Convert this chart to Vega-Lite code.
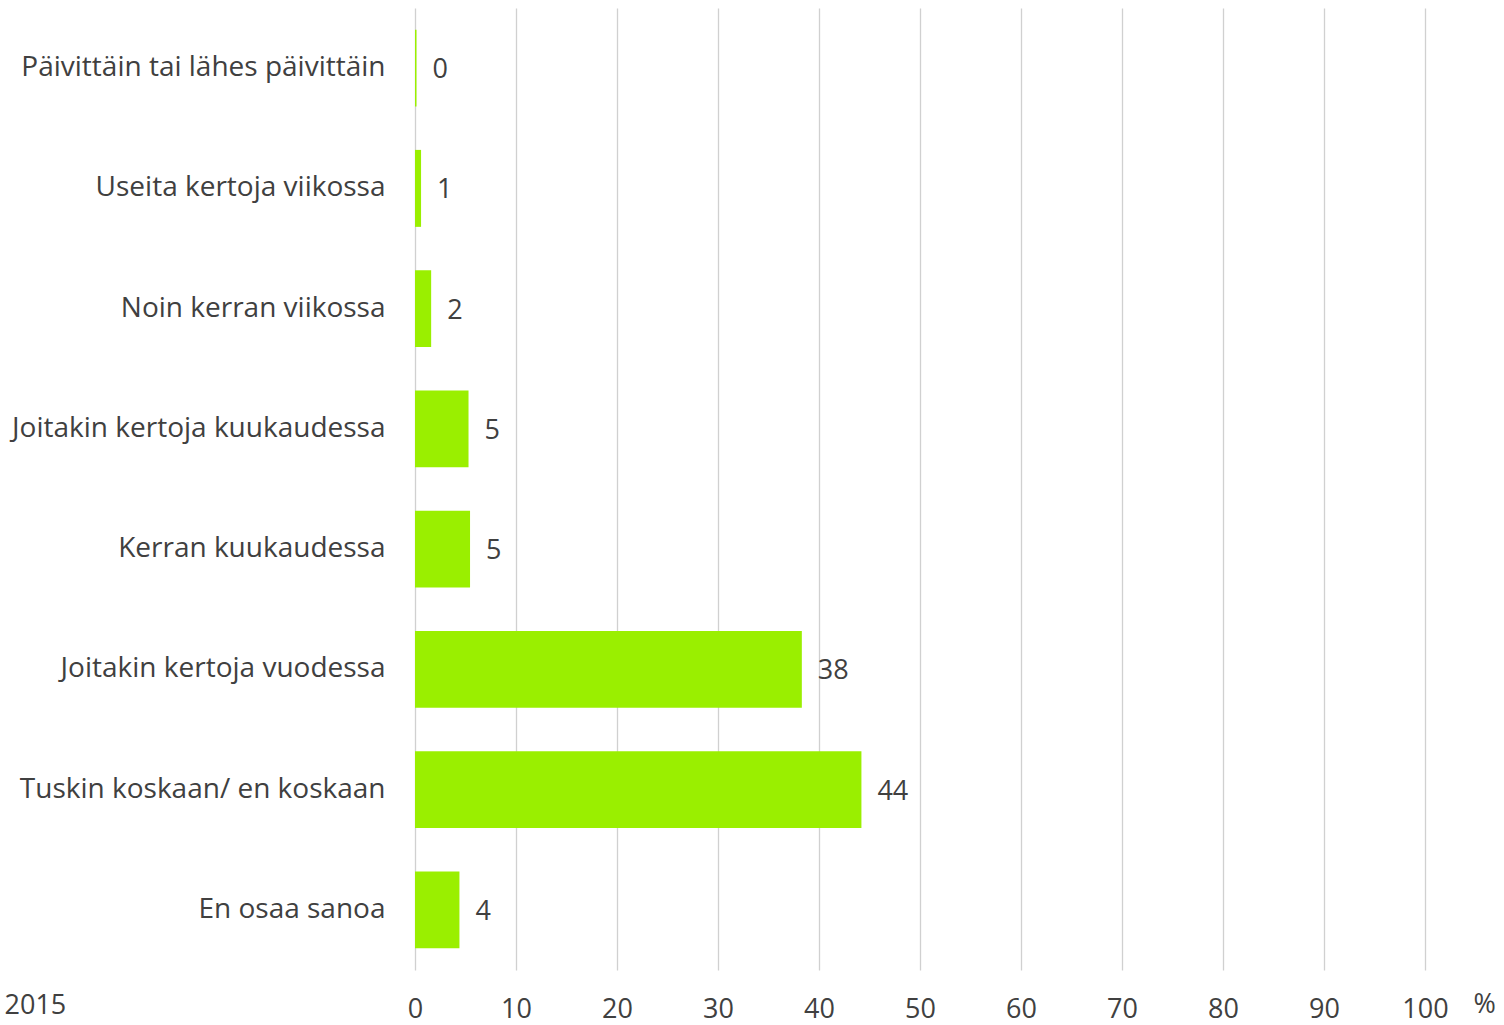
{
  "$schema": "https://vega.github.io/schema/vega-lite/v6.json",
  "width": 1010,
  "height": 962,
  "autosize": {"type": "none"},
  "padding": {"left": 415, "top": 8, "right": 79, "bottom": 55},
  "background": "white",
  "data": {"values": [
    {"category": "Päivittäin tai lähes päivittäin", "value": 0.15},
    {"category": "Useita kertoja viikossa", "value": 0.6},
    {"category": "Noin kerran viikossa", "value": 1.6},
    {"category": "Joitakin kertoja kuukaudessa", "value": 5.3},
    {"category": "Kerran kuukaudessa", "value": 5.45},
    {"category": "Joitakin kertoja vuodessa", "value": 38.3},
    {"category": "Tuskin koskaan/ en koskaan", "value": 44.2},
    {"category": "En osaa sanoa", "value": 4.4}
  ]},
  "config": {
    "view": {"stroke": null},
    "font": "Open Sans",
    "axis": {"labelFont": "Open Sans", "titleFont": "Open Sans", "labelColor": "#404040", "titleColor": "#404040"}
  },
  "encoding": {
    "y": {
      "field": "category", "type": "nominal", "sort": null,
      "scale": {"paddingInner": 0.36, "paddingOuter": 0.18},
      "axis": {
        "title": "2015", "titleAngle": 0, "titleX": -411, "titleY": 1005, "titleAlign": "left", "titleBaseline": "alphabetic",
        "titleFontSize": 27, "titleFontWeight": "normal",
        "labelFontSize": 28, "labelPadding": 30, "ticks": false, "domain": false, "labelLimit": 420
      }
    },
    "x": {
      "field": "value", "type": "quantitative",
      "scale": {"domain": [0, 100], "nice": false},
      "axis": {
        "title": "%", "titleX": 1058, "titleY": 42, "titleAlign": "left", "titleBaseline": "alphabetic",
        "titleFontSize": 27, "titleFontWeight": "normal",
        "values": [0, 10, 20, 30, 40, 50, 60, 70, 80, 90, 100],
        "labelFontSize": 27, "labelPadding": 26, "labelFlush": false, "ticks": false, "domain": false,
        "grid": true, "gridColor": "#d0d0d0", "gridWidth": 1.3
      }
    }
  },
  "layer": [
    {"mark": {"type": "bar", "color": "#9AEF00"}},
    {
      "mark": {"type": "text", "align": "left", "dx": 16, "dy": 2, "fontSize": 27, "color": "#404040", "font": "Open Sans"},
      "encoding": {"text": {"field": "value", "type": "quantitative", "format": ".0f"}}
    }
  ]
}
